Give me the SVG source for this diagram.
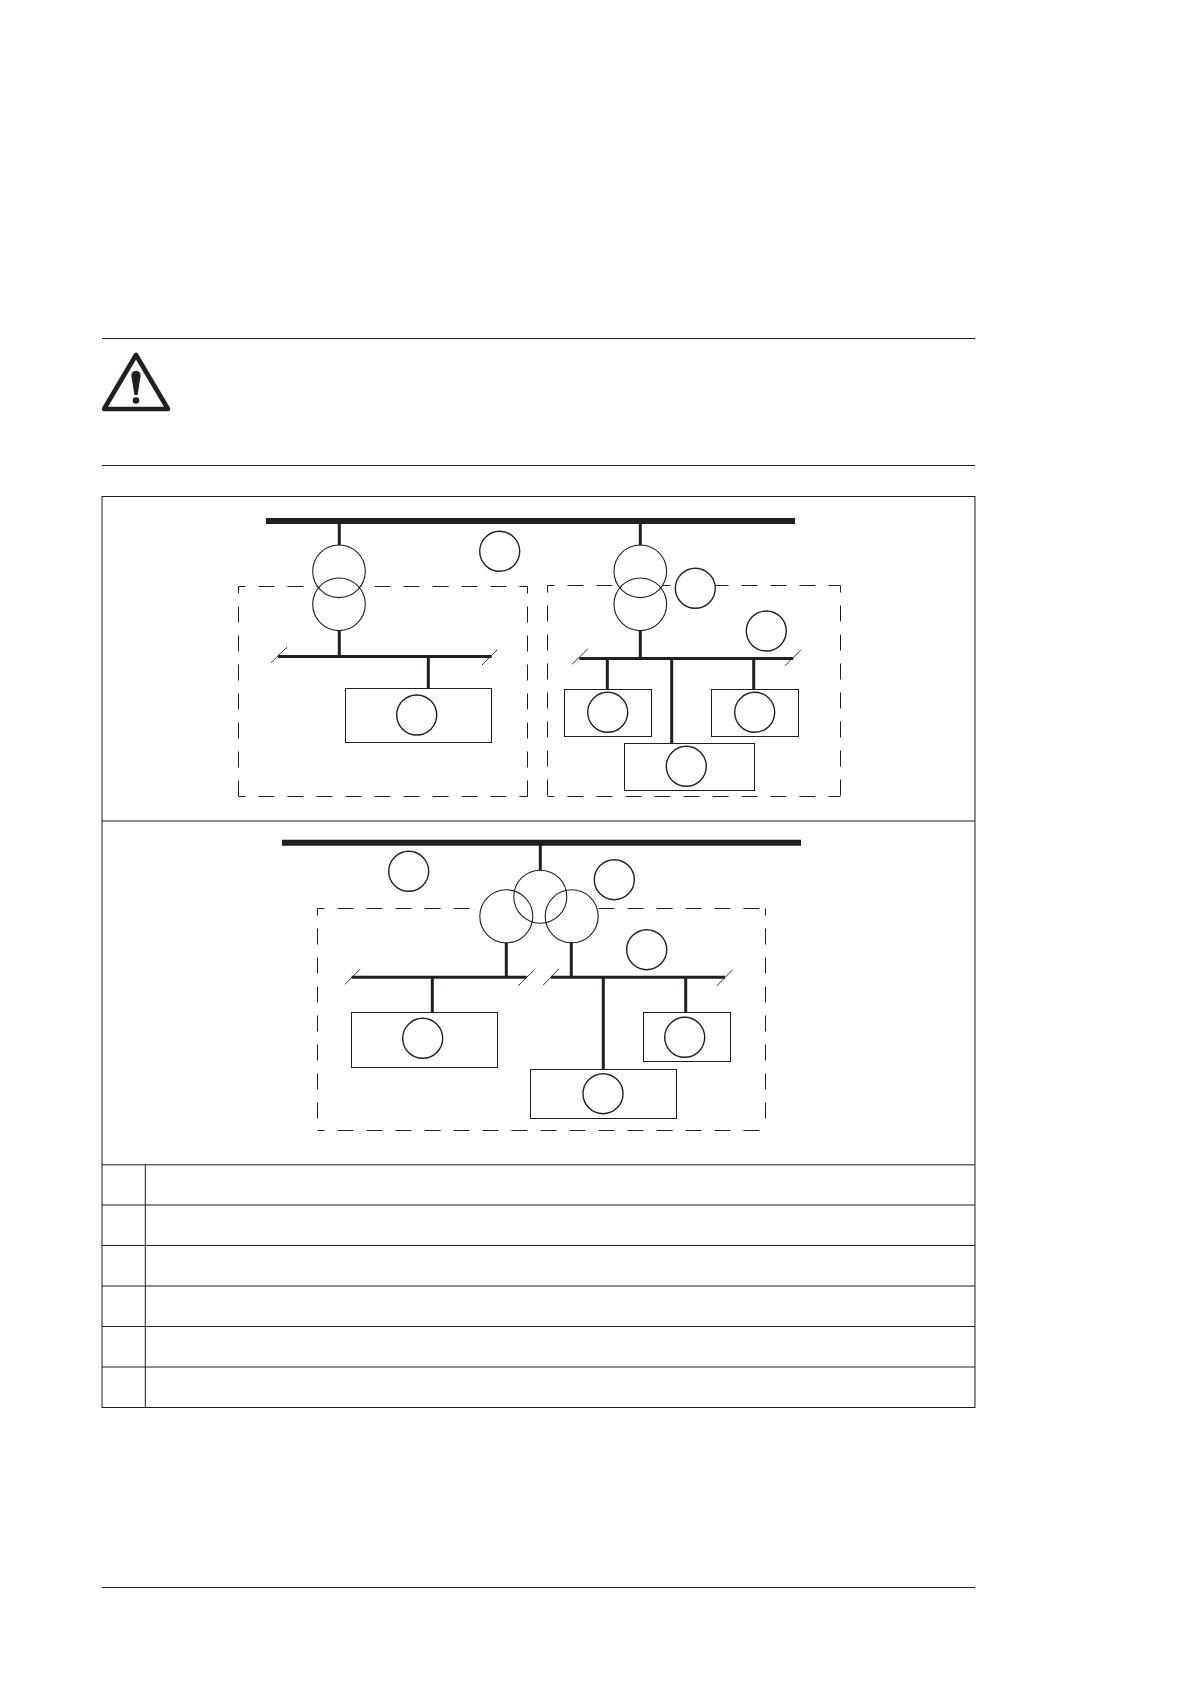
<svg xmlns="http://www.w3.org/2000/svg" width="1191" height="1684" viewBox="0 0 1191 1684">
<style>
.bg{fill:#fff}
.rule{stroke:#1f1c1c;stroke-width:1;fill:none}
.bus0{stroke:#231f20;stroke-width:6;fill:none}
.bus{stroke:#231f20;stroke-width:3;fill:none}
.slash{stroke:#231f20;stroke-width:.9;fill:none}
.dash{stroke:#231f20;stroke-width:1;fill:none;stroke-dasharray:16 13;stroke-dashoffset:9}
.box{stroke:#231f20;stroke-width:1;fill:#fff}
.tag{stroke:#231f20;stroke-width:1.4;fill:#fff}
.coil{stroke:#231f20;stroke-width:1.1;fill:#fff}
.coilf{stroke:none;fill:#fff}
.coilo{stroke:#231f20;stroke-width:1.1;fill:none}
</style>
<rect class="bg" width="1191" height="1684"/>
<g id="page-rules">
<line class="rule" x1="102" y1="338.5" x2="975" y2="338.5"/>
<line class="rule" x1="102" y1="465.5" x2="975" y2="465.5"/>
<line class="rule" x1="102" y1="1587.5" x2="975" y2="1587.5"/>
</g>
<g id="warning-icon">
<path d="M136 355L104 409H168Z" fill="#fff" stroke="#231f20" stroke-width="4.600" stroke-linejoin="round"/>
<path d="M136 371c3 0 4.800 2 4.600 4.800L137.600 395h-3.200L131.400 375.800C131.200 373 133 371 136 371Z" fill="#231f20"/>
<circle cx="136" cy="400.500" r="3.300" fill="#231f20"/>
</g>
<g id="table">
<line class="rule" x1="102" y1="496.500" x2="975" y2="496.500"/>
<line class="rule" x1="102" y1="1407.500" x2="975" y2="1407.500"/>
<line class="rule" x1="102" y1="496" x2="102" y2="1408"/>
<line class="rule" x1="975" y1="496" x2="975" y2="1408"/>
<line class="rule" x1="102" y1="821" x2="975" y2="821"/>
<line class="rule" x1="102" y1="1164.800" x2="975" y2="1164.800"/>
<line class="rule" x1="102" y1="1205" x2="975" y2="1205"/>
<line class="rule" x1="102" y1="1245.500" x2="975" y2="1245.500"/>
<line class="rule" x1="102" y1="1286" x2="975" y2="1286"/>
<line class="rule" x1="102" y1="1326.500" x2="975" y2="1326.500"/>
<line class="rule" x1="102" y1="1367" x2="975" y2="1367"/>
<line class="rule" x1="145.300" y1="1165" x2="145.300" y2="1407.500"/>
</g>
<g id="enclosures">
<path id="enclosure-a" class="dash" d="M238.500 586.500H527.500M238.500 586.500V796.500M527.500 586.500V796.500M238.500 796.500H527.500"/>
<path id="enclosure-b" class="dash" d="M547.500 585.500H840.500M547.500 585.500V796.500M840.500 585.500V796.500M547.500 796.500H840.500"/>
<path id="enclosure-c" class="dash" d="M317.500 908.500H765.500M317.500 908.500V1130.500M765.500 908.500V1130.500M317.500 1130.500H765.500"/>
</g>
<g id="connectors">
<line class="bus0" x1="266" y1="521" x2="795" y2="521"/>
<line class="bus" x1="339.300" y1="521" x2="339.300" y2="546"/>
<line class="bus" x1="339.300" y1="630" x2="339.300" y2="656.500"/>
<line class="bus" x1="278" y1="656.500" x2="491.700" y2="656.500"/>
<line class="bus" x1="428.300" y1="656.500" x2="428.300" y2="688.500"/>
<line class="slash" x1="271" y1="662.700" x2="286.700" y2="647.300"/>
<line class="slash" x1="482" y1="665" x2="497.300" y2="649.700"/>
<line class="bus" x1="640.300" y1="521" x2="640.300" y2="546"/>
<line class="bus" x1="640.300" y1="630" x2="640.300" y2="658.500"/>
<line class="bus" x1="579.300" y1="658.500" x2="793.300" y2="658.500"/>
<line class="bus" x1="607.300" y1="658.500" x2="607.300" y2="689.500"/>
<line class="bus" x1="671.700" y1="658.500" x2="671.700" y2="743.500"/>
<line class="bus" x1="753.700" y1="658.500" x2="753.700" y2="689.500"/>
<line class="slash" x1="572" y1="664.300" x2="588" y2="648.700"/>
<line class="slash" x1="785" y1="665.700" x2="800.700" y2="650"/>
<line class="bus0" x1="282" y1="842.700" x2="801" y2="842.700"/>
<line class="bus" x1="540.300" y1="842.700" x2="540.300" y2="871"/>
<line class="bus" x1="506.300" y1="942" x2="506.300" y2="977.300"/>
<line class="bus" x1="571.300" y1="942" x2="571.300" y2="977.300"/>
<line class="bus" x1="351.700" y1="977.300" x2="526.700" y2="977.300"/>
<line class="bus" x1="551" y1="977.300" x2="725" y2="977.300"/>
<line class="bus" x1="432.300" y1="977.300" x2="432.300" y2="1012.500"/>
<line class="bus" x1="603.300" y1="977.300" x2="603.300" y2="1069.500"/>
<line class="bus" x1="685.700" y1="977.300" x2="685.700" y2="1012.500"/>
<line class="slash" x1="345" y1="984.300" x2="360" y2="969.300"/>
<line class="slash" x1="518.300" y1="985.700" x2="534" y2="970"/>
<line class="slash" x1="543.300" y1="985" x2="558.700" y2="969"/>
<line class="slash" x1="717" y1="985.700" x2="732.700" y2="969.700"/>
</g>
<g id="transformer-a">
<circle class="coilf" cx="339" cy="571.300" r="26.300"/>
<circle class="coil" cx="339" cy="604.300" r="26.300"/>
<circle class="coilo" cx="339" cy="571.300" r="26.300"/>
</g>
<g id="transformer-b">
<circle class="coilf" cx="640.300" cy="571.300" r="26.300"/>
<circle class="coil" cx="640.300" cy="604.300" r="26.300"/>
<circle class="coilo" cx="640.300" cy="571.300" r="26.300"/>
</g>
<g id="transformer-c">
<circle class="coilf" cx="540.300" cy="896.700" r="26.500"/>
<circle class="coil" cx="506.300" cy="916.300" r="26.500"/>
<circle class="coil" cx="571.700" cy="916.300" r="26.500"/>
<circle class="coilo" cx="540.300" cy="896.700" r="26.500"/>
</g>
<g id="load-a1"><rect class="box" x="345.500" y="688.500" width="146" height="54"/><circle class="tag" cx="416.700" cy="715" r="20"/></g>
<g id="load-b1"><rect class="box" x="564.500" y="689.500" width="87" height="47"/><circle class="tag" cx="607.700" cy="712.300" r="20"/></g>
<g id="load-b2"><rect class="box" x="711.500" y="689.500" width="87" height="47"/><circle class="tag" cx="754.700" cy="712.300" r="20"/></g>
<g id="load-b3"><rect class="box" x="624.500" y="743.500" width="130" height="47"/><circle class="tag" cx="686.300" cy="766.300" r="20"/></g>
<g id="load-c1"><rect class="box" x="351.500" y="1012.500" width="146" height="55"/><circle class="tag" cx="422.700" cy="1038.300" r="20"/></g>
<g id="load-c2"><rect class="box" x="643.500" y="1012.500" width="87" height="49"/><circle class="tag" cx="684.700" cy="1037.300" r="20"/></g>
<g id="load-c3"><rect class="box" x="530.500" y="1069.500" width="146" height="49"/><circle class="tag" cx="603" cy="1093.700" r="20"/></g>
<g id="tag-a"><circle class="tag" cx="499.700" cy="551.300" r="20"/></g>
<g id="tag-b1"><circle class="tag" cx="695.300" cy="588.300" r="20"/></g>
<g id="tag-b2"><circle class="tag" cx="766.300" cy="631" r="20"/></g>
<g id="tag-c1"><circle class="tag" cx="408.700" cy="871.300" r="20"/></g>
<g id="tag-c2"><circle class="tag" cx="614.300" cy="879.700" r="20"/></g>
<g id="tag-c3"><circle class="tag" cx="646.700" cy="949.700" r="20"/></g>
</svg>
